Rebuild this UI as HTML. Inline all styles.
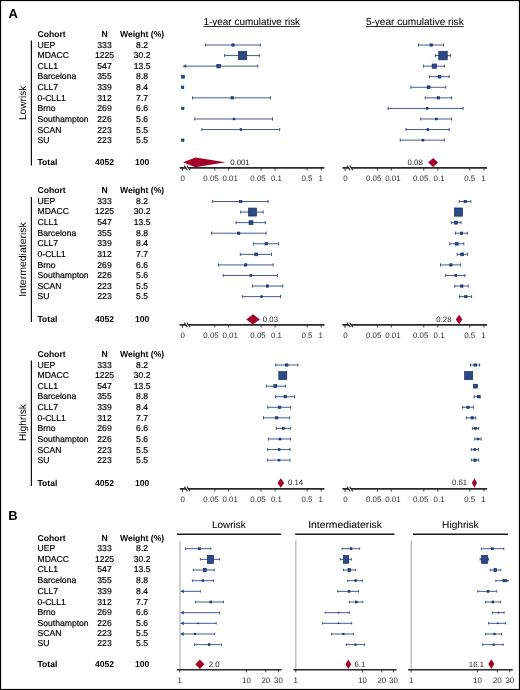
<!DOCTYPE html>
<html><head><meta charset="utf-8"><style>
html,body{margin:0;padding:0;background:#fff;}
svg{display:block;font-family:"Liberation Sans", sans-serif;}
text{text-rendering:geometricPrecision;}
</style></head><body>
<div style="will-change:transform"><svg width="520" height="690" viewBox="0 0 520 690">
<rect x="0" y="0" width="520" height="690" fill="#fff"/>
<text x="8.60" y="18.20" font-size="13" text-anchor="start" font-weight="bold" fill="#000" >A</text>
<text x="203.50" y="25.30" font-size="10" text-anchor="start" font-weight="normal" fill="#000" stroke="#000" stroke-width="0.05" textLength="96.6" lengthAdjust="spacingAndGlyphs">1-year cumulative risk</text>
<line x1="203.50" y1="26.50" x2="300.10" y2="26.50" stroke="#000" stroke-width="0.8"/>
<text x="365.90" y="25.30" font-size="10" text-anchor="start" font-weight="normal" fill="#000" stroke="#000" stroke-width="0.05" textLength="97.8" lengthAdjust="spacingAndGlyphs">5-year cumulative risk</text>
<line x1="365.90" y1="26.50" x2="463.70" y2="26.50" stroke="#000" stroke-width="0.8"/>
<text x="37.50" y="36.80" font-size="8.6" text-anchor="start" font-weight="bold" fill="#000" >Cohort</text>
<text x="104.50" y="36.80" font-size="8.6" text-anchor="middle" font-weight="bold" fill="#000" >N</text>
<text x="142.10" y="36.80" font-size="8.6" text-anchor="middle" font-weight="bold" fill="#000" >Weight (%)</text>
<text x="37.50" y="47.50" font-size="8.6" text-anchor="start" font-weight="normal" fill="#000" stroke="#000" stroke-width="0.18" >UEP</text>
<text x="104.50" y="47.50" font-size="8.6" text-anchor="middle" font-weight="normal" fill="#000" stroke="#000" stroke-width="0.18" >333</text>
<text x="142.10" y="47.50" font-size="8.6" text-anchor="middle" font-weight="normal" fill="#000" stroke="#000" stroke-width="0.18" >8.2</text>
<text x="37.50" y="57.95" font-size="8.6" text-anchor="start" font-weight="normal" fill="#000" stroke="#000" stroke-width="0.18" >MDACC</text>
<text x="104.50" y="57.95" font-size="8.6" text-anchor="middle" font-weight="normal" fill="#000" stroke="#000" stroke-width="0.18" >1225</text>
<text x="142.10" y="57.95" font-size="8.6" text-anchor="middle" font-weight="normal" fill="#000" stroke="#000" stroke-width="0.18" >30.2</text>
<text x="37.50" y="68.60" font-size="8.6" text-anchor="start" font-weight="normal" fill="#000" stroke="#000" stroke-width="0.18" >CLL1</text>
<text x="104.50" y="68.60" font-size="8.6" text-anchor="middle" font-weight="normal" fill="#000" stroke="#000" stroke-width="0.18" >547</text>
<text x="142.10" y="68.60" font-size="8.6" text-anchor="middle" font-weight="normal" fill="#000" stroke="#000" stroke-width="0.18" >13.5</text>
<text x="37.50" y="79.20" font-size="8.6" text-anchor="start" font-weight="normal" fill="#000" stroke="#000" stroke-width="0.18" >Barcelona</text>
<text x="104.50" y="79.20" font-size="8.6" text-anchor="middle" font-weight="normal" fill="#000" stroke="#000" stroke-width="0.18" >355</text>
<text x="142.10" y="79.20" font-size="8.6" text-anchor="middle" font-weight="normal" fill="#000" stroke="#000" stroke-width="0.18" >8.8</text>
<text x="37.50" y="89.95" font-size="8.6" text-anchor="start" font-weight="normal" fill="#000" stroke="#000" stroke-width="0.18" >CLL7</text>
<text x="104.50" y="89.95" font-size="8.6" text-anchor="middle" font-weight="normal" fill="#000" stroke="#000" stroke-width="0.18" >339</text>
<text x="142.10" y="89.95" font-size="8.6" text-anchor="middle" font-weight="normal" fill="#000" stroke="#000" stroke-width="0.18" >8.4</text>
<text x="37.50" y="100.90" font-size="8.6" text-anchor="start" font-weight="normal" fill="#000" stroke="#000" stroke-width="0.18" >0-CLL1</text>
<text x="104.50" y="100.90" font-size="8.6" text-anchor="middle" font-weight="normal" fill="#000" stroke="#000" stroke-width="0.18" >312</text>
<text x="142.10" y="100.90" font-size="8.6" text-anchor="middle" font-weight="normal" fill="#000" stroke="#000" stroke-width="0.18" >7.7</text>
<text x="37.50" y="111.35" font-size="8.6" text-anchor="start" font-weight="normal" fill="#000" stroke="#000" stroke-width="0.18" >Brno</text>
<text x="104.50" y="111.35" font-size="8.6" text-anchor="middle" font-weight="normal" fill="#000" stroke="#000" stroke-width="0.18" >269</text>
<text x="142.10" y="111.35" font-size="8.6" text-anchor="middle" font-weight="normal" fill="#000" stroke="#000" stroke-width="0.18" >6.6</text>
<text x="37.50" y="121.90" font-size="8.6" text-anchor="start" font-weight="normal" fill="#000" stroke="#000" stroke-width="0.18" >Southampton</text>
<text x="104.50" y="121.90" font-size="8.6" text-anchor="middle" font-weight="normal" fill="#000" stroke="#000" stroke-width="0.18" >226</text>
<text x="142.10" y="121.90" font-size="8.6" text-anchor="middle" font-weight="normal" fill="#000" stroke="#000" stroke-width="0.18" >5.6</text>
<text x="37.50" y="132.70" font-size="8.6" text-anchor="start" font-weight="normal" fill="#000" stroke="#000" stroke-width="0.18" >SCAN</text>
<text x="104.50" y="132.70" font-size="8.6" text-anchor="middle" font-weight="normal" fill="#000" stroke="#000" stroke-width="0.18" >223</text>
<text x="142.10" y="132.70" font-size="8.6" text-anchor="middle" font-weight="normal" fill="#000" stroke="#000" stroke-width="0.18" >5.5</text>
<text x="37.50" y="142.55" font-size="8.6" text-anchor="start" font-weight="normal" fill="#000" stroke="#000" stroke-width="0.18" >SU</text>
<text x="104.50" y="142.55" font-size="8.6" text-anchor="middle" font-weight="normal" fill="#000" stroke="#000" stroke-width="0.18" >223</text>
<text x="142.10" y="142.55" font-size="8.6" text-anchor="middle" font-weight="normal" fill="#000" stroke="#000" stroke-width="0.18" >5.5</text>
<text x="37.50" y="165.30" font-size="8.6" text-anchor="start" font-weight="bold" fill="#000" >Total</text>
<text x="104.50" y="165.30" font-size="8.6" text-anchor="middle" font-weight="bold" fill="#000" >4052</text>
<text x="142.10" y="165.30" font-size="8.6" text-anchor="middle" font-weight="bold" fill="#000" >100</text>
<line x1="31.40" y1="40.40" x2="31.40" y2="165.60" stroke="#111" stroke-width="1.2"/>
<text x="0" y="0" font-size="10.1" text-anchor="middle" fill="#000" textLength="34.3" lengthAdjust="spacingAndGlyphs" transform="translate(25.6,102.90) rotate(-90)">Lowrisk</text>
<line x1="179.70" y1="167.90" x2="324.40" y2="167.90" stroke="#2a2a2a" stroke-width="1.6"/>
<line x1="214.80" y1="167.90" x2="214.80" y2="170.50" stroke="#2a2a2a" stroke-width="0.9"/>
<line x1="228.60" y1="167.90" x2="228.60" y2="170.50" stroke="#2a2a2a" stroke-width="0.9"/>
<line x1="261.10" y1="167.90" x2="261.10" y2="170.50" stroke="#2a2a2a" stroke-width="0.9"/>
<line x1="275.10" y1="167.90" x2="275.10" y2="170.50" stroke="#2a2a2a" stroke-width="0.9"/>
<line x1="307.10" y1="167.90" x2="307.10" y2="170.50" stroke="#2a2a2a" stroke-width="0.9"/>
<line x1="321.30" y1="167.90" x2="321.30" y2="170.50" stroke="#2a2a2a" stroke-width="0.9"/>
<line x1="182.40" y1="167.90" x2="182.40" y2="170.90" stroke="#2a2a2a" stroke-width="1.0"/>
<rect x="185.00" y="165.40" width="2.2" height="5" fill="#fff" transform="skewX(35) translate(-117.53,0)" opacity="0"/>
<polygon points="185.00,165.70 186.40,165.70 189.40,170.10 188.00,170.10" fill="#fff"/>
<line x1="184.30" y1="165.60" x2="187.40" y2="170.20" stroke="#2a2a2a" stroke-width="1.1"/>
<line x1="187.00" y1="165.60" x2="190.10" y2="170.20" stroke="#2a2a2a" stroke-width="1.1"/>
<text x="182.80" y="180.80" font-size="7.9" text-anchor="middle" font-weight="normal" fill="#2a2a2a" >0</text>
<text x="211.00" y="180.80" font-size="7.9" text-anchor="middle" font-weight="normal" fill="#2a2a2a" >0.05</text>
<text x="230.20" y="180.80" font-size="7.9" text-anchor="middle" font-weight="normal" fill="#2a2a2a" >0.01</text>
<text x="258.00" y="180.80" font-size="7.9" text-anchor="middle" font-weight="normal" fill="#2a2a2a" >0.05</text>
<text x="276.40" y="180.80" font-size="7.9" text-anchor="middle" font-weight="normal" fill="#2a2a2a" >0.1</text>
<text x="307.00" y="180.80" font-size="7.9" text-anchor="middle" font-weight="normal" fill="#2a2a2a" >0.5</text>
<text x="320.80" y="180.80" font-size="7.9" text-anchor="middle" font-weight="normal" fill="#2a2a2a" >1</text>
<line x1="342.40" y1="167.90" x2="487.10" y2="167.90" stroke="#2a2a2a" stroke-width="1.6"/>
<line x1="377.50" y1="167.90" x2="377.50" y2="170.50" stroke="#2a2a2a" stroke-width="0.9"/>
<line x1="391.30" y1="167.90" x2="391.30" y2="170.50" stroke="#2a2a2a" stroke-width="0.9"/>
<line x1="423.80" y1="167.90" x2="423.80" y2="170.50" stroke="#2a2a2a" stroke-width="0.9"/>
<line x1="437.80" y1="167.90" x2="437.80" y2="170.50" stroke="#2a2a2a" stroke-width="0.9"/>
<line x1="469.80" y1="167.90" x2="469.80" y2="170.50" stroke="#2a2a2a" stroke-width="0.9"/>
<line x1="484.00" y1="167.90" x2="484.00" y2="170.50" stroke="#2a2a2a" stroke-width="0.9"/>
<line x1="345.10" y1="167.90" x2="345.10" y2="170.90" stroke="#2a2a2a" stroke-width="1.0"/>
<rect x="347.70" y="165.40" width="2.2" height="5" fill="#fff" transform="skewX(35) translate(-117.53,0)" opacity="0"/>
<polygon points="347.70,165.70 349.10,165.70 352.10,170.10 350.70,170.10" fill="#fff"/>
<line x1="347.00" y1="165.60" x2="350.10" y2="170.20" stroke="#2a2a2a" stroke-width="1.1"/>
<line x1="349.70" y1="165.60" x2="352.80" y2="170.20" stroke="#2a2a2a" stroke-width="1.1"/>
<text x="345.50" y="180.80" font-size="7.9" text-anchor="middle" font-weight="normal" fill="#2a2a2a" >0</text>
<text x="373.70" y="180.80" font-size="7.9" text-anchor="middle" font-weight="normal" fill="#2a2a2a" >0.05</text>
<text x="392.90" y="180.80" font-size="7.9" text-anchor="middle" font-weight="normal" fill="#2a2a2a" >0.01</text>
<text x="420.70" y="180.80" font-size="7.9" text-anchor="middle" font-weight="normal" fill="#2a2a2a" >0.05</text>
<text x="439.10" y="180.80" font-size="7.9" text-anchor="middle" font-weight="normal" fill="#2a2a2a" >0.1</text>
<text x="469.70" y="180.80" font-size="7.9" text-anchor="middle" font-weight="normal" fill="#2a2a2a" >0.5</text>
<text x="483.50" y="180.80" font-size="7.9" text-anchor="middle" font-weight="normal" fill="#2a2a2a" >1</text>
<line x1="205.30" y1="45.00" x2="260.30" y2="45.00" stroke="#2d4a84" stroke-width="0.9"/>
<line x1="205.30" y1="43.40" x2="205.30" y2="46.60" stroke="#2d4a84" stroke-width="0.9"/>
<line x1="260.30" y1="43.40" x2="260.30" y2="46.60" stroke="#2d4a84" stroke-width="0.9"/>
<rect x="231.85" y="43.85" width="2.30" height="2.30" fill="#2d4a84" stroke="#142d68" stroke-width="0.7"/>
<line x1="418.50" y1="45.00" x2="443.50" y2="45.00" stroke="#2d4a84" stroke-width="0.9"/>
<line x1="418.50" y1="43.40" x2="418.50" y2="46.60" stroke="#2d4a84" stroke-width="0.9"/>
<line x1="443.50" y1="43.40" x2="443.50" y2="46.60" stroke="#2d4a84" stroke-width="0.9"/>
<rect x="430.05" y="43.85" width="2.30" height="2.30" fill="#2d4a84" stroke="#142d68" stroke-width="0.7"/>
<line x1="224.60" y1="55.57" x2="259.20" y2="55.57" stroke="#2d4a84" stroke-width="0.9"/>
<line x1="224.60" y1="53.97" x2="224.60" y2="57.17" stroke="#2d4a84" stroke-width="0.9"/>
<line x1="259.20" y1="53.97" x2="259.20" y2="57.17" stroke="#2d4a84" stroke-width="0.9"/>
<rect x="238.35" y="51.42" width="8.30" height="8.30" fill="#2d4a84" stroke="#142d68" stroke-width="0.7"/>
<line x1="435.30" y1="55.57" x2="450.40" y2="55.57" stroke="#2d4a84" stroke-width="0.9"/>
<line x1="435.30" y1="53.97" x2="435.30" y2="57.17" stroke="#2d4a84" stroke-width="0.9"/>
<line x1="450.40" y1="53.97" x2="450.40" y2="57.17" stroke="#2d4a84" stroke-width="0.9"/>
<rect x="438.75" y="51.32" width="8.50" height="8.50" fill="#2d4a84" stroke="#142d68" stroke-width="0.7"/>
<line x1="183.00" y1="66.14" x2="257.70" y2="66.14" stroke="#2d4a84" stroke-width="0.9"/>
<polygon points="183.00,66.14 186.20,64.24 186.20,68.04" fill="#2d4a84"/>
<line x1="257.70" y1="64.54" x2="257.70" y2="67.74" stroke="#2d4a84" stroke-width="0.9"/>
<rect x="216.85" y="64.39" width="3.50" height="3.50" fill="#2d4a84" stroke="#142d68" stroke-width="0.7"/>
<line x1="423.60" y1="66.14" x2="444.50" y2="66.14" stroke="#2d4a84" stroke-width="0.9"/>
<line x1="423.60" y1="64.54" x2="423.60" y2="67.74" stroke="#2d4a84" stroke-width="0.9"/>
<line x1="444.50" y1="64.54" x2="444.50" y2="67.74" stroke="#2d4a84" stroke-width="0.9"/>
<rect x="432.15" y="63.99" width="4.30" height="4.30" fill="#2d4a84" stroke="#142d68" stroke-width="0.7"/>
<rect x="181.55" y="75.26" width="2.90" height="2.90" fill="#2d4a84" stroke="#142d68" stroke-width="0.7"/>
<line x1="429.60" y1="76.71" x2="449.20" y2="76.71" stroke="#2d4a84" stroke-width="0.9"/>
<line x1="429.60" y1="75.11" x2="429.60" y2="78.31" stroke="#2d4a84" stroke-width="0.9"/>
<line x1="449.20" y1="75.11" x2="449.20" y2="78.31" stroke="#2d4a84" stroke-width="0.9"/>
<rect x="438.15" y="75.36" width="2.70" height="2.70" fill="#2d4a84" stroke="#142d68" stroke-width="0.7"/>
<rect x="181.40" y="86.08" width="2.40" height="2.40" fill="#2d4a84" stroke="#142d68" stroke-width="0.7"/>
<line x1="410.80" y1="87.28" x2="445.80" y2="87.28" stroke="#2d4a84" stroke-width="0.9"/>
<line x1="410.80" y1="85.68" x2="410.80" y2="88.88" stroke="#2d4a84" stroke-width="0.9"/>
<line x1="445.80" y1="85.68" x2="445.80" y2="88.88" stroke="#2d4a84" stroke-width="0.9"/>
<rect x="427.20" y="85.88" width="2.80" height="2.80" fill="#2d4a84" stroke="#142d68" stroke-width="0.7"/>
<line x1="192.50" y1="97.85" x2="270.50" y2="97.85" stroke="#2d4a84" stroke-width="0.9"/>
<line x1="192.50" y1="96.25" x2="192.50" y2="99.45" stroke="#2d4a84" stroke-width="0.9"/>
<line x1="270.50" y1="96.25" x2="270.50" y2="99.45" stroke="#2d4a84" stroke-width="0.9"/>
<rect x="231.05" y="96.70" width="2.30" height="2.30" fill="#2d4a84" stroke="#142d68" stroke-width="0.7"/>
<line x1="425.20" y1="97.85" x2="451.50" y2="97.85" stroke="#2d4a84" stroke-width="0.9"/>
<line x1="425.20" y1="96.25" x2="425.20" y2="99.45" stroke="#2d4a84" stroke-width="0.9"/>
<line x1="451.50" y1="96.25" x2="451.50" y2="99.45" stroke="#2d4a84" stroke-width="0.9"/>
<rect x="437.15" y="96.70" width="2.30" height="2.30" fill="#2d4a84" stroke="#142d68" stroke-width="0.7"/>
<rect x="181.65" y="107.27" width="2.30" height="2.30" fill="#2d4a84" stroke="#142d68" stroke-width="0.7"/>
<line x1="388.10" y1="108.42" x2="463.10" y2="108.42" stroke="#2d4a84" stroke-width="0.9"/>
<line x1="388.10" y1="106.82" x2="388.10" y2="110.02" stroke="#2d4a84" stroke-width="0.9"/>
<line x1="463.10" y1="106.82" x2="463.10" y2="110.02" stroke="#2d4a84" stroke-width="0.9"/>
<rect x="426.20" y="107.52" width="1.80" height="1.80" fill="#2d4a84" stroke="#142d68" stroke-width="0.7"/>
<line x1="194.80" y1="118.99" x2="272.50" y2="118.99" stroke="#2d4a84" stroke-width="0.9"/>
<line x1="194.80" y1="117.39" x2="194.80" y2="120.59" stroke="#2d4a84" stroke-width="0.9"/>
<line x1="272.50" y1="117.39" x2="272.50" y2="120.59" stroke="#2d4a84" stroke-width="0.9"/>
<rect x="233.15" y="118.14" width="1.70" height="1.70" fill="#2d4a84" stroke="#142d68" stroke-width="0.7"/>
<line x1="420.80" y1="118.99" x2="451.50" y2="118.99" stroke="#2d4a84" stroke-width="0.9"/>
<line x1="420.80" y1="117.39" x2="420.80" y2="120.59" stroke="#2d4a84" stroke-width="0.9"/>
<line x1="451.50" y1="117.39" x2="451.50" y2="120.59" stroke="#2d4a84" stroke-width="0.9"/>
<rect x="435.40" y="118.09" width="1.80" height="1.80" fill="#2d4a84" stroke="#142d68" stroke-width="0.7"/>
<line x1="201.90" y1="129.56" x2="279.70" y2="129.56" stroke="#2d4a84" stroke-width="0.9"/>
<line x1="201.90" y1="127.96" x2="201.90" y2="131.16" stroke="#2d4a84" stroke-width="0.9"/>
<line x1="279.70" y1="127.96" x2="279.70" y2="131.16" stroke="#2d4a84" stroke-width="0.9"/>
<rect x="240.05" y="128.71" width="1.70" height="1.70" fill="#2d4a84" stroke="#142d68" stroke-width="0.7"/>
<line x1="406.00" y1="129.56" x2="449.20" y2="129.56" stroke="#2d4a84" stroke-width="0.9"/>
<line x1="406.00" y1="127.96" x2="406.00" y2="131.16" stroke="#2d4a84" stroke-width="0.9"/>
<line x1="449.20" y1="127.96" x2="449.20" y2="131.16" stroke="#2d4a84" stroke-width="0.9"/>
<rect x="427.00" y="128.66" width="1.80" height="1.80" fill="#2d4a84" stroke="#142d68" stroke-width="0.7"/>
<rect x="181.65" y="138.98" width="2.30" height="2.30" fill="#2d4a84" stroke="#142d68" stroke-width="0.7"/>
<line x1="400.20" y1="140.13" x2="444.40" y2="140.13" stroke="#2d4a84" stroke-width="0.9"/>
<line x1="400.20" y1="138.53" x2="400.20" y2="141.73" stroke="#2d4a84" stroke-width="0.9"/>
<line x1="444.40" y1="138.53" x2="444.40" y2="141.73" stroke="#2d4a84" stroke-width="0.9"/>
<rect x="422.00" y="139.23" width="1.80" height="1.80" fill="#2d4a84" stroke="#142d68" stroke-width="0.7"/>
<polygon points="183.00,162.30 195.50,157.40 225.50,162.30 195.50,167.20" fill="#a5002b"/>
<text x="230.20" y="165.00" font-size="7.8" text-anchor="start" font-weight="normal" fill="#2a2a2a" >0.001</text>
<polygon points="428.20,162.60 433.10,158.10 438.00,162.60 433.10,167.00" fill="#a5002b"/>
<text x="422.80" y="164.80" font-size="7.8" text-anchor="end" font-weight="normal" fill="#2a2a2a" >0.08</text>
<text x="37.50" y="193.30" font-size="8.6" text-anchor="start" font-weight="bold" fill="#000" >Cohort</text>
<text x="104.50" y="193.30" font-size="8.6" text-anchor="middle" font-weight="bold" fill="#000" >N</text>
<text x="142.10" y="193.30" font-size="8.6" text-anchor="middle" font-weight="bold" fill="#000" >Weight (%)</text>
<text x="37.50" y="204.00" font-size="8.6" text-anchor="start" font-weight="normal" fill="#000" stroke="#000" stroke-width="0.18" >UEP</text>
<text x="104.50" y="204.00" font-size="8.6" text-anchor="middle" font-weight="normal" fill="#000" stroke="#000" stroke-width="0.18" >333</text>
<text x="142.10" y="204.00" font-size="8.6" text-anchor="middle" font-weight="normal" fill="#000" stroke="#000" stroke-width="0.18" >8.2</text>
<text x="37.50" y="214.45" font-size="8.6" text-anchor="start" font-weight="normal" fill="#000" stroke="#000" stroke-width="0.18" >MDACC</text>
<text x="104.50" y="214.45" font-size="8.6" text-anchor="middle" font-weight="normal" fill="#000" stroke="#000" stroke-width="0.18" >1225</text>
<text x="142.10" y="214.45" font-size="8.6" text-anchor="middle" font-weight="normal" fill="#000" stroke="#000" stroke-width="0.18" >30.2</text>
<text x="37.50" y="225.10" font-size="8.6" text-anchor="start" font-weight="normal" fill="#000" stroke="#000" stroke-width="0.18" >CLL1</text>
<text x="104.50" y="225.10" font-size="8.6" text-anchor="middle" font-weight="normal" fill="#000" stroke="#000" stroke-width="0.18" >547</text>
<text x="142.10" y="225.10" font-size="8.6" text-anchor="middle" font-weight="normal" fill="#000" stroke="#000" stroke-width="0.18" >13.5</text>
<text x="37.50" y="235.70" font-size="8.6" text-anchor="start" font-weight="normal" fill="#000" stroke="#000" stroke-width="0.18" >Barcelona</text>
<text x="104.50" y="235.70" font-size="8.6" text-anchor="middle" font-weight="normal" fill="#000" stroke="#000" stroke-width="0.18" >355</text>
<text x="142.10" y="235.70" font-size="8.6" text-anchor="middle" font-weight="normal" fill="#000" stroke="#000" stroke-width="0.18" >8.8</text>
<text x="37.50" y="246.45" font-size="8.6" text-anchor="start" font-weight="normal" fill="#000" stroke="#000" stroke-width="0.18" >CLL7</text>
<text x="104.50" y="246.45" font-size="8.6" text-anchor="middle" font-weight="normal" fill="#000" stroke="#000" stroke-width="0.18" >339</text>
<text x="142.10" y="246.45" font-size="8.6" text-anchor="middle" font-weight="normal" fill="#000" stroke="#000" stroke-width="0.18" >8.4</text>
<text x="37.50" y="257.40" font-size="8.6" text-anchor="start" font-weight="normal" fill="#000" stroke="#000" stroke-width="0.18" >0-CLL1</text>
<text x="104.50" y="257.40" font-size="8.6" text-anchor="middle" font-weight="normal" fill="#000" stroke="#000" stroke-width="0.18" >312</text>
<text x="142.10" y="257.40" font-size="8.6" text-anchor="middle" font-weight="normal" fill="#000" stroke="#000" stroke-width="0.18" >7.7</text>
<text x="37.50" y="267.85" font-size="8.6" text-anchor="start" font-weight="normal" fill="#000" stroke="#000" stroke-width="0.18" >Brno</text>
<text x="104.50" y="267.85" font-size="8.6" text-anchor="middle" font-weight="normal" fill="#000" stroke="#000" stroke-width="0.18" >269</text>
<text x="142.10" y="267.85" font-size="8.6" text-anchor="middle" font-weight="normal" fill="#000" stroke="#000" stroke-width="0.18" >6.6</text>
<text x="37.50" y="278.40" font-size="8.6" text-anchor="start" font-weight="normal" fill="#000" stroke="#000" stroke-width="0.18" >Southampton</text>
<text x="104.50" y="278.40" font-size="8.6" text-anchor="middle" font-weight="normal" fill="#000" stroke="#000" stroke-width="0.18" >226</text>
<text x="142.10" y="278.40" font-size="8.6" text-anchor="middle" font-weight="normal" fill="#000" stroke="#000" stroke-width="0.18" >5.6</text>
<text x="37.50" y="289.20" font-size="8.6" text-anchor="start" font-weight="normal" fill="#000" stroke="#000" stroke-width="0.18" >SCAN</text>
<text x="104.50" y="289.20" font-size="8.6" text-anchor="middle" font-weight="normal" fill="#000" stroke="#000" stroke-width="0.18" >223</text>
<text x="142.10" y="289.20" font-size="8.6" text-anchor="middle" font-weight="normal" fill="#000" stroke="#000" stroke-width="0.18" >5.5</text>
<text x="37.50" y="299.05" font-size="8.6" text-anchor="start" font-weight="normal" fill="#000" stroke="#000" stroke-width="0.18" >SU</text>
<text x="104.50" y="299.05" font-size="8.6" text-anchor="middle" font-weight="normal" fill="#000" stroke="#000" stroke-width="0.18" >223</text>
<text x="142.10" y="299.05" font-size="8.6" text-anchor="middle" font-weight="normal" fill="#000" stroke="#000" stroke-width="0.18" >5.5</text>
<text x="37.50" y="321.80" font-size="8.6" text-anchor="start" font-weight="bold" fill="#000" >Total</text>
<text x="104.50" y="321.80" font-size="8.6" text-anchor="middle" font-weight="bold" fill="#000" >4052</text>
<text x="142.10" y="321.80" font-size="8.6" text-anchor="middle" font-weight="bold" fill="#000" >100</text>
<line x1="31.40" y1="196.90" x2="31.40" y2="322.10" stroke="#111" stroke-width="1.2"/>
<text x="0" y="0" font-size="10.1" text-anchor="middle" fill="#000" textLength="74.6" lengthAdjust="spacingAndGlyphs" transform="translate(25.6,259.50) rotate(-90)">Intermediaterisk</text>
<line x1="179.70" y1="324.90" x2="324.40" y2="324.90" stroke="#2a2a2a" stroke-width="1.6"/>
<line x1="214.80" y1="324.90" x2="214.80" y2="327.50" stroke="#2a2a2a" stroke-width="0.9"/>
<line x1="228.60" y1="324.90" x2="228.60" y2="327.50" stroke="#2a2a2a" stroke-width="0.9"/>
<line x1="261.10" y1="324.90" x2="261.10" y2="327.50" stroke="#2a2a2a" stroke-width="0.9"/>
<line x1="275.10" y1="324.90" x2="275.10" y2="327.50" stroke="#2a2a2a" stroke-width="0.9"/>
<line x1="307.10" y1="324.90" x2="307.10" y2="327.50" stroke="#2a2a2a" stroke-width="0.9"/>
<line x1="321.30" y1="324.90" x2="321.30" y2="327.50" stroke="#2a2a2a" stroke-width="0.9"/>
<line x1="182.40" y1="324.90" x2="182.40" y2="327.90" stroke="#2a2a2a" stroke-width="1.0"/>
<rect x="185.00" y="322.40" width="2.2" height="5" fill="#fff" transform="skewX(35) translate(-227.43,0)" opacity="0"/>
<polygon points="185.00,322.70 186.40,322.70 189.40,327.10 188.00,327.10" fill="#fff"/>
<line x1="184.30" y1="322.60" x2="187.40" y2="327.20" stroke="#2a2a2a" stroke-width="1.1"/>
<line x1="187.00" y1="322.60" x2="190.10" y2="327.20" stroke="#2a2a2a" stroke-width="1.1"/>
<text x="182.80" y="337.80" font-size="7.9" text-anchor="middle" font-weight="normal" fill="#2a2a2a" >0</text>
<text x="211.00" y="337.80" font-size="7.9" text-anchor="middle" font-weight="normal" fill="#2a2a2a" >0.05</text>
<text x="230.20" y="337.80" font-size="7.9" text-anchor="middle" font-weight="normal" fill="#2a2a2a" >0.01</text>
<text x="258.00" y="337.80" font-size="7.9" text-anchor="middle" font-weight="normal" fill="#2a2a2a" >0.05</text>
<text x="276.40" y="337.80" font-size="7.9" text-anchor="middle" font-weight="normal" fill="#2a2a2a" >0.1</text>
<text x="307.00" y="337.80" font-size="7.9" text-anchor="middle" font-weight="normal" fill="#2a2a2a" >0.5</text>
<text x="320.80" y="337.80" font-size="7.9" text-anchor="middle" font-weight="normal" fill="#2a2a2a" >1</text>
<line x1="342.40" y1="324.90" x2="487.10" y2="324.90" stroke="#2a2a2a" stroke-width="1.6"/>
<line x1="377.50" y1="324.90" x2="377.50" y2="327.50" stroke="#2a2a2a" stroke-width="0.9"/>
<line x1="391.30" y1="324.90" x2="391.30" y2="327.50" stroke="#2a2a2a" stroke-width="0.9"/>
<line x1="423.80" y1="324.90" x2="423.80" y2="327.50" stroke="#2a2a2a" stroke-width="0.9"/>
<line x1="437.80" y1="324.90" x2="437.80" y2="327.50" stroke="#2a2a2a" stroke-width="0.9"/>
<line x1="469.80" y1="324.90" x2="469.80" y2="327.50" stroke="#2a2a2a" stroke-width="0.9"/>
<line x1="484.00" y1="324.90" x2="484.00" y2="327.50" stroke="#2a2a2a" stroke-width="0.9"/>
<line x1="345.10" y1="324.90" x2="345.10" y2="327.90" stroke="#2a2a2a" stroke-width="1.0"/>
<rect x="347.70" y="322.40" width="2.2" height="5" fill="#fff" transform="skewX(35) translate(-227.43,0)" opacity="0"/>
<polygon points="347.70,322.70 349.10,322.70 352.10,327.10 350.70,327.10" fill="#fff"/>
<line x1="347.00" y1="322.60" x2="350.10" y2="327.20" stroke="#2a2a2a" stroke-width="1.1"/>
<line x1="349.70" y1="322.60" x2="352.80" y2="327.20" stroke="#2a2a2a" stroke-width="1.1"/>
<text x="345.50" y="337.80" font-size="7.9" text-anchor="middle" font-weight="normal" fill="#2a2a2a" >0</text>
<text x="373.70" y="337.80" font-size="7.9" text-anchor="middle" font-weight="normal" fill="#2a2a2a" >0.05</text>
<text x="392.90" y="337.80" font-size="7.9" text-anchor="middle" font-weight="normal" fill="#2a2a2a" >0.01</text>
<text x="420.70" y="337.80" font-size="7.9" text-anchor="middle" font-weight="normal" fill="#2a2a2a" >0.05</text>
<text x="439.10" y="337.80" font-size="7.9" text-anchor="middle" font-weight="normal" fill="#2a2a2a" >0.1</text>
<text x="469.70" y="337.80" font-size="7.9" text-anchor="middle" font-weight="normal" fill="#2a2a2a" >0.5</text>
<text x="483.50" y="337.80" font-size="7.9" text-anchor="middle" font-weight="normal" fill="#2a2a2a" >1</text>
<line x1="212.40" y1="201.50" x2="268.10" y2="201.50" stroke="#2d4a84" stroke-width="0.9"/>
<line x1="212.40" y1="199.90" x2="212.40" y2="203.10" stroke="#2d4a84" stroke-width="0.9"/>
<line x1="268.10" y1="199.90" x2="268.10" y2="203.10" stroke="#2d4a84" stroke-width="0.9"/>
<rect x="239.55" y="200.35" width="2.30" height="2.30" fill="#2d4a84" stroke="#142d68" stroke-width="0.7"/>
<line x1="459.20" y1="201.50" x2="470.80" y2="201.50" stroke="#2d4a84" stroke-width="0.9"/>
<line x1="459.20" y1="199.90" x2="459.20" y2="203.10" stroke="#2d4a84" stroke-width="0.9"/>
<line x1="470.80" y1="199.90" x2="470.80" y2="203.10" stroke="#2d4a84" stroke-width="0.9"/>
<rect x="464.05" y="200.35" width="2.30" height="2.30" fill="#2d4a84" stroke="#142d68" stroke-width="0.7"/>
<line x1="240.80" y1="212.07" x2="263.20" y2="212.07" stroke="#2d4a84" stroke-width="0.9"/>
<line x1="240.80" y1="210.47" x2="240.80" y2="213.67" stroke="#2d4a84" stroke-width="0.9"/>
<line x1="263.20" y1="210.47" x2="263.20" y2="213.67" stroke="#2d4a84" stroke-width="0.9"/>
<rect x="248.50" y="208.07" width="8.00" height="8.00" fill="#2d4a84" stroke="#142d68" stroke-width="0.7"/>
<rect x="454.40" y="207.97" width="8.20" height="8.20" fill="#2d4a84" stroke="#142d68" stroke-width="0.7"/>
<line x1="236.10" y1="222.64" x2="265.30" y2="222.64" stroke="#2d4a84" stroke-width="0.9"/>
<line x1="236.10" y1="221.04" x2="236.10" y2="224.24" stroke="#2d4a84" stroke-width="0.9"/>
<line x1="265.30" y1="221.04" x2="265.30" y2="224.24" stroke="#2d4a84" stroke-width="0.9"/>
<rect x="249.05" y="220.69" width="3.90" height="3.90" fill="#2d4a84" stroke="#142d68" stroke-width="0.7"/>
<line x1="451.20" y1="222.64" x2="461.00" y2="222.64" stroke="#2d4a84" stroke-width="0.9"/>
<line x1="451.20" y1="221.04" x2="451.20" y2="224.24" stroke="#2d4a84" stroke-width="0.9"/>
<line x1="461.00" y1="221.04" x2="461.00" y2="224.24" stroke="#2d4a84" stroke-width="0.9"/>
<rect x="454.50" y="221.14" width="3.00" height="3.00" fill="#2d4a84" stroke="#142d68" stroke-width="0.7"/>
<line x1="211.50" y1="233.21" x2="266.10" y2="233.21" stroke="#2d4a84" stroke-width="0.9"/>
<line x1="211.50" y1="231.61" x2="211.50" y2="234.81" stroke="#2d4a84" stroke-width="0.9"/>
<line x1="266.10" y1="231.61" x2="266.10" y2="234.81" stroke="#2d4a84" stroke-width="0.9"/>
<rect x="237.55" y="232.06" width="2.30" height="2.30" fill="#2d4a84" stroke="#142d68" stroke-width="0.7"/>
<line x1="455.40" y1="233.21" x2="467.30" y2="233.21" stroke="#2d4a84" stroke-width="0.9"/>
<line x1="455.40" y1="231.61" x2="455.40" y2="234.81" stroke="#2d4a84" stroke-width="0.9"/>
<line x1="467.30" y1="231.61" x2="467.30" y2="234.81" stroke="#2d4a84" stroke-width="0.9"/>
<rect x="460.35" y="232.06" width="2.30" height="2.30" fill="#2d4a84" stroke="#142d68" stroke-width="0.7"/>
<line x1="253.60" y1="243.78" x2="278.50" y2="243.78" stroke="#2d4a84" stroke-width="0.9"/>
<line x1="253.60" y1="242.18" x2="253.60" y2="245.38" stroke="#2d4a84" stroke-width="0.9"/>
<line x1="278.50" y1="242.18" x2="278.50" y2="245.38" stroke="#2d4a84" stroke-width="0.9"/>
<rect x="265.05" y="242.63" width="2.30" height="2.30" fill="#2d4a84" stroke="#142d68" stroke-width="0.7"/>
<line x1="449.70" y1="243.78" x2="463.80" y2="243.78" stroke="#2d4a84" stroke-width="0.9"/>
<line x1="449.70" y1="242.18" x2="449.70" y2="245.38" stroke="#2d4a84" stroke-width="0.9"/>
<line x1="463.80" y1="242.18" x2="463.80" y2="245.38" stroke="#2d4a84" stroke-width="0.9"/>
<rect x="455.30" y="242.38" width="2.80" height="2.80" fill="#2d4a84" stroke="#142d68" stroke-width="0.7"/>
<line x1="240.30" y1="254.35" x2="271.50" y2="254.35" stroke="#2d4a84" stroke-width="0.9"/>
<line x1="240.30" y1="252.75" x2="240.30" y2="255.95" stroke="#2d4a84" stroke-width="0.9"/>
<line x1="271.50" y1="252.75" x2="271.50" y2="255.95" stroke="#2d4a84" stroke-width="0.9"/>
<rect x="254.80" y="252.95" width="2.80" height="2.80" fill="#2d4a84" stroke="#142d68" stroke-width="0.7"/>
<line x1="457.20" y1="254.35" x2="467.50" y2="254.35" stroke="#2d4a84" stroke-width="0.9"/>
<line x1="457.20" y1="252.75" x2="457.20" y2="255.95" stroke="#2d4a84" stroke-width="0.9"/>
<line x1="467.50" y1="252.75" x2="467.50" y2="255.95" stroke="#2d4a84" stroke-width="0.9"/>
<rect x="460.70" y="252.95" width="2.80" height="2.80" fill="#2d4a84" stroke="#142d68" stroke-width="0.7"/>
<line x1="218.50" y1="264.92" x2="273.10" y2="264.92" stroke="#2d4a84" stroke-width="0.9"/>
<line x1="218.50" y1="263.32" x2="218.50" y2="266.52" stroke="#2d4a84" stroke-width="0.9"/>
<line x1="273.10" y1="263.32" x2="273.10" y2="266.52" stroke="#2d4a84" stroke-width="0.9"/>
<rect x="244.55" y="263.77" width="2.30" height="2.30" fill="#2d4a84" stroke="#142d68" stroke-width="0.7"/>
<line x1="440.50" y1="264.92" x2="460.60" y2="264.92" stroke="#2d4a84" stroke-width="0.9"/>
<line x1="440.50" y1="263.32" x2="440.50" y2="266.52" stroke="#2d4a84" stroke-width="0.9"/>
<line x1="460.60" y1="263.32" x2="460.60" y2="266.52" stroke="#2d4a84" stroke-width="0.9"/>
<rect x="449.75" y="263.77" width="2.30" height="2.30" fill="#2d4a84" stroke="#142d68" stroke-width="0.7"/>
<line x1="223.20" y1="275.49" x2="277.40" y2="275.49" stroke="#2d4a84" stroke-width="0.9"/>
<line x1="223.20" y1="273.89" x2="223.20" y2="277.09" stroke="#2d4a84" stroke-width="0.9"/>
<line x1="277.40" y1="273.89" x2="277.40" y2="277.09" stroke="#2d4a84" stroke-width="0.9"/>
<rect x="250.00" y="274.59" width="1.80" height="1.80" fill="#2d4a84" stroke="#142d68" stroke-width="0.7"/>
<line x1="445.60" y1="275.49" x2="465.00" y2="275.49" stroke="#2d4a84" stroke-width="0.9"/>
<line x1="445.60" y1="273.89" x2="445.60" y2="277.09" stroke="#2d4a84" stroke-width="0.9"/>
<line x1="465.00" y1="273.89" x2="465.00" y2="277.09" stroke="#2d4a84" stroke-width="0.9"/>
<rect x="454.90" y="274.59" width="1.80" height="1.80" fill="#2d4a84" stroke="#142d68" stroke-width="0.7"/>
<line x1="252.50" y1="286.06" x2="282.80" y2="286.06" stroke="#2d4a84" stroke-width="0.9"/>
<line x1="252.50" y1="284.46" x2="252.50" y2="287.66" stroke="#2d4a84" stroke-width="0.9"/>
<line x1="282.80" y1="284.46" x2="282.80" y2="287.66" stroke="#2d4a84" stroke-width="0.9"/>
<rect x="266.35" y="284.91" width="2.30" height="2.30" fill="#2d4a84" stroke="#142d68" stroke-width="0.7"/>
<line x1="454.80" y1="286.06" x2="468.20" y2="286.06" stroke="#2d4a84" stroke-width="0.9"/>
<line x1="454.80" y1="284.46" x2="454.80" y2="287.66" stroke="#2d4a84" stroke-width="0.9"/>
<line x1="468.20" y1="284.46" x2="468.20" y2="287.66" stroke="#2d4a84" stroke-width="0.9"/>
<rect x="460.65" y="284.91" width="2.30" height="2.30" fill="#2d4a84" stroke="#142d68" stroke-width="0.7"/>
<line x1="242.30" y1="296.63" x2="280.50" y2="296.63" stroke="#2d4a84" stroke-width="0.9"/>
<line x1="242.30" y1="295.03" x2="242.30" y2="298.23" stroke="#2d4a84" stroke-width="0.9"/>
<line x1="280.50" y1="295.03" x2="280.50" y2="298.23" stroke="#2d4a84" stroke-width="0.9"/>
<rect x="260.80" y="295.73" width="1.80" height="1.80" fill="#2d4a84" stroke="#142d68" stroke-width="0.7"/>
<line x1="459.60" y1="296.63" x2="471.60" y2="296.63" stroke="#2d4a84" stroke-width="0.9"/>
<line x1="459.60" y1="295.03" x2="459.60" y2="298.23" stroke="#2d4a84" stroke-width="0.9"/>
<line x1="471.60" y1="295.03" x2="471.60" y2="298.23" stroke="#2d4a84" stroke-width="0.9"/>
<rect x="464.65" y="295.48" width="2.30" height="2.30" fill="#2d4a84" stroke="#142d68" stroke-width="0.7"/>
<polygon points="246.30,319.40 253.00,314.30 259.80,319.40 253.00,324.50" fill="#a5002b"/>
<text x="262.80" y="321.60" font-size="7.8" text-anchor="start" font-weight="normal" fill="#2a2a2a" >0.03</text>
<polygon points="455.80,319.50 459.10,314.70 462.40,319.50 459.10,324.20" fill="#a5002b"/>
<text x="451.50" y="321.60" font-size="7.8" text-anchor="end" font-weight="normal" fill="#2a2a2a" >0.28</text>
<text x="37.50" y="356.80" font-size="8.6" text-anchor="start" font-weight="bold" fill="#000" >Cohort</text>
<text x="104.50" y="356.80" font-size="8.6" text-anchor="middle" font-weight="bold" fill="#000" >N</text>
<text x="142.10" y="356.80" font-size="8.6" text-anchor="middle" font-weight="bold" fill="#000" >Weight (%)</text>
<text x="37.50" y="367.50" font-size="8.6" text-anchor="start" font-weight="normal" fill="#000" stroke="#000" stroke-width="0.18" >UEP</text>
<text x="104.50" y="367.50" font-size="8.6" text-anchor="middle" font-weight="normal" fill="#000" stroke="#000" stroke-width="0.18" >333</text>
<text x="142.10" y="367.50" font-size="8.6" text-anchor="middle" font-weight="normal" fill="#000" stroke="#000" stroke-width="0.18" >8.2</text>
<text x="37.50" y="377.95" font-size="8.6" text-anchor="start" font-weight="normal" fill="#000" stroke="#000" stroke-width="0.18" >MDACC</text>
<text x="104.50" y="377.95" font-size="8.6" text-anchor="middle" font-weight="normal" fill="#000" stroke="#000" stroke-width="0.18" >1225</text>
<text x="142.10" y="377.95" font-size="8.6" text-anchor="middle" font-weight="normal" fill="#000" stroke="#000" stroke-width="0.18" >30.2</text>
<text x="37.50" y="388.60" font-size="8.6" text-anchor="start" font-weight="normal" fill="#000" stroke="#000" stroke-width="0.18" >CLL1</text>
<text x="104.50" y="388.60" font-size="8.6" text-anchor="middle" font-weight="normal" fill="#000" stroke="#000" stroke-width="0.18" >547</text>
<text x="142.10" y="388.60" font-size="8.6" text-anchor="middle" font-weight="normal" fill="#000" stroke="#000" stroke-width="0.18" >13.5</text>
<text x="37.50" y="399.20" font-size="8.6" text-anchor="start" font-weight="normal" fill="#000" stroke="#000" stroke-width="0.18" >Barcelona</text>
<text x="104.50" y="399.20" font-size="8.6" text-anchor="middle" font-weight="normal" fill="#000" stroke="#000" stroke-width="0.18" >355</text>
<text x="142.10" y="399.20" font-size="8.6" text-anchor="middle" font-weight="normal" fill="#000" stroke="#000" stroke-width="0.18" >8.8</text>
<text x="37.50" y="409.95" font-size="8.6" text-anchor="start" font-weight="normal" fill="#000" stroke="#000" stroke-width="0.18" >CLL7</text>
<text x="104.50" y="409.95" font-size="8.6" text-anchor="middle" font-weight="normal" fill="#000" stroke="#000" stroke-width="0.18" >339</text>
<text x="142.10" y="409.95" font-size="8.6" text-anchor="middle" font-weight="normal" fill="#000" stroke="#000" stroke-width="0.18" >8.4</text>
<text x="37.50" y="420.90" font-size="8.6" text-anchor="start" font-weight="normal" fill="#000" stroke="#000" stroke-width="0.18" >0-CLL1</text>
<text x="104.50" y="420.90" font-size="8.6" text-anchor="middle" font-weight="normal" fill="#000" stroke="#000" stroke-width="0.18" >312</text>
<text x="142.10" y="420.90" font-size="8.6" text-anchor="middle" font-weight="normal" fill="#000" stroke="#000" stroke-width="0.18" >7.7</text>
<text x="37.50" y="431.35" font-size="8.6" text-anchor="start" font-weight="normal" fill="#000" stroke="#000" stroke-width="0.18" >Brno</text>
<text x="104.50" y="431.35" font-size="8.6" text-anchor="middle" font-weight="normal" fill="#000" stroke="#000" stroke-width="0.18" >269</text>
<text x="142.10" y="431.35" font-size="8.6" text-anchor="middle" font-weight="normal" fill="#000" stroke="#000" stroke-width="0.18" >6.6</text>
<text x="37.50" y="441.90" font-size="8.6" text-anchor="start" font-weight="normal" fill="#000" stroke="#000" stroke-width="0.18" >Southampton</text>
<text x="104.50" y="441.90" font-size="8.6" text-anchor="middle" font-weight="normal" fill="#000" stroke="#000" stroke-width="0.18" >226</text>
<text x="142.10" y="441.90" font-size="8.6" text-anchor="middle" font-weight="normal" fill="#000" stroke="#000" stroke-width="0.18" >5.6</text>
<text x="37.50" y="452.70" font-size="8.6" text-anchor="start" font-weight="normal" fill="#000" stroke="#000" stroke-width="0.18" >SCAN</text>
<text x="104.50" y="452.70" font-size="8.6" text-anchor="middle" font-weight="normal" fill="#000" stroke="#000" stroke-width="0.18" >223</text>
<text x="142.10" y="452.70" font-size="8.6" text-anchor="middle" font-weight="normal" fill="#000" stroke="#000" stroke-width="0.18" >5.5</text>
<text x="37.50" y="462.55" font-size="8.6" text-anchor="start" font-weight="normal" fill="#000" stroke="#000" stroke-width="0.18" >SU</text>
<text x="104.50" y="462.55" font-size="8.6" text-anchor="middle" font-weight="normal" fill="#000" stroke="#000" stroke-width="0.18" >223</text>
<text x="142.10" y="462.55" font-size="8.6" text-anchor="middle" font-weight="normal" fill="#000" stroke="#000" stroke-width="0.18" >5.5</text>
<text x="37.50" y="485.80" font-size="8.6" text-anchor="start" font-weight="bold" fill="#000" >Total</text>
<text x="104.50" y="485.80" font-size="8.6" text-anchor="middle" font-weight="bold" fill="#000" >4052</text>
<text x="142.10" y="485.80" font-size="8.6" text-anchor="middle" font-weight="bold" fill="#000" >100</text>
<line x1="31.40" y1="360.40" x2="31.40" y2="486.10" stroke="#111" stroke-width="1.2"/>
<text x="0" y="0" font-size="10.1" text-anchor="middle" fill="#000" textLength="37.0" lengthAdjust="spacingAndGlyphs" transform="translate(25.6,422.60) rotate(-90)">Highrisk</text>
<line x1="179.70" y1="488.90" x2="324.40" y2="488.90" stroke="#2a2a2a" stroke-width="1.6"/>
<line x1="214.80" y1="488.90" x2="214.80" y2="491.50" stroke="#2a2a2a" stroke-width="0.9"/>
<line x1="228.60" y1="488.90" x2="228.60" y2="491.50" stroke="#2a2a2a" stroke-width="0.9"/>
<line x1="261.10" y1="488.90" x2="261.10" y2="491.50" stroke="#2a2a2a" stroke-width="0.9"/>
<line x1="275.10" y1="488.90" x2="275.10" y2="491.50" stroke="#2a2a2a" stroke-width="0.9"/>
<line x1="307.10" y1="488.90" x2="307.10" y2="491.50" stroke="#2a2a2a" stroke-width="0.9"/>
<line x1="321.30" y1="488.90" x2="321.30" y2="491.50" stroke="#2a2a2a" stroke-width="0.9"/>
<line x1="182.40" y1="488.90" x2="182.40" y2="491.90" stroke="#2a2a2a" stroke-width="1.0"/>
<rect x="185.00" y="486.40" width="2.2" height="5" fill="#fff" transform="skewX(35) translate(-342.23,0)" opacity="0"/>
<polygon points="185.00,486.70 186.40,486.70 189.40,491.10 188.00,491.10" fill="#fff"/>
<line x1="184.30" y1="486.60" x2="187.40" y2="491.20" stroke="#2a2a2a" stroke-width="1.1"/>
<line x1="187.00" y1="486.60" x2="190.10" y2="491.20" stroke="#2a2a2a" stroke-width="1.1"/>
<text x="182.80" y="501.80" font-size="7.9" text-anchor="middle" font-weight="normal" fill="#2a2a2a" >0</text>
<text x="211.00" y="501.80" font-size="7.9" text-anchor="middle" font-weight="normal" fill="#2a2a2a" >0.05</text>
<text x="230.20" y="501.80" font-size="7.9" text-anchor="middle" font-weight="normal" fill="#2a2a2a" >0.01</text>
<text x="258.00" y="501.80" font-size="7.9" text-anchor="middle" font-weight="normal" fill="#2a2a2a" >0.05</text>
<text x="276.40" y="501.80" font-size="7.9" text-anchor="middle" font-weight="normal" fill="#2a2a2a" >0.1</text>
<text x="307.00" y="501.80" font-size="7.9" text-anchor="middle" font-weight="normal" fill="#2a2a2a" >0.5</text>
<text x="320.80" y="501.80" font-size="7.9" text-anchor="middle" font-weight="normal" fill="#2a2a2a" >1</text>
<line x1="342.40" y1="488.90" x2="487.10" y2="488.90" stroke="#2a2a2a" stroke-width="1.6"/>
<line x1="377.50" y1="488.90" x2="377.50" y2="491.50" stroke="#2a2a2a" stroke-width="0.9"/>
<line x1="391.30" y1="488.90" x2="391.30" y2="491.50" stroke="#2a2a2a" stroke-width="0.9"/>
<line x1="423.80" y1="488.90" x2="423.80" y2="491.50" stroke="#2a2a2a" stroke-width="0.9"/>
<line x1="437.80" y1="488.90" x2="437.80" y2="491.50" stroke="#2a2a2a" stroke-width="0.9"/>
<line x1="469.80" y1="488.90" x2="469.80" y2="491.50" stroke="#2a2a2a" stroke-width="0.9"/>
<line x1="484.00" y1="488.90" x2="484.00" y2="491.50" stroke="#2a2a2a" stroke-width="0.9"/>
<line x1="345.10" y1="488.90" x2="345.10" y2="491.90" stroke="#2a2a2a" stroke-width="1.0"/>
<rect x="347.70" y="486.40" width="2.2" height="5" fill="#fff" transform="skewX(35) translate(-342.23,0)" opacity="0"/>
<polygon points="347.70,486.70 349.10,486.70 352.10,491.10 350.70,491.10" fill="#fff"/>
<line x1="347.00" y1="486.60" x2="350.10" y2="491.20" stroke="#2a2a2a" stroke-width="1.1"/>
<line x1="349.70" y1="486.60" x2="352.80" y2="491.20" stroke="#2a2a2a" stroke-width="1.1"/>
<text x="345.50" y="501.80" font-size="7.9" text-anchor="middle" font-weight="normal" fill="#2a2a2a" >0</text>
<text x="373.70" y="501.80" font-size="7.9" text-anchor="middle" font-weight="normal" fill="#2a2a2a" >0.05</text>
<text x="392.90" y="501.80" font-size="7.9" text-anchor="middle" font-weight="normal" fill="#2a2a2a" >0.01</text>
<text x="420.70" y="501.80" font-size="7.9" text-anchor="middle" font-weight="normal" fill="#2a2a2a" >0.05</text>
<text x="439.10" y="501.80" font-size="7.9" text-anchor="middle" font-weight="normal" fill="#2a2a2a" >0.1</text>
<text x="469.70" y="501.80" font-size="7.9" text-anchor="middle" font-weight="normal" fill="#2a2a2a" >0.5</text>
<text x="483.50" y="501.80" font-size="7.9" text-anchor="middle" font-weight="normal" fill="#2a2a2a" >1</text>
<line x1="275.70" y1="365.00" x2="297.80" y2="365.00" stroke="#2d4a84" stroke-width="0.9"/>
<line x1="275.70" y1="363.40" x2="275.70" y2="366.60" stroke="#2d4a84" stroke-width="0.9"/>
<line x1="297.80" y1="363.40" x2="297.80" y2="366.60" stroke="#2d4a84" stroke-width="0.9"/>
<rect x="285.65" y="363.85" width="2.30" height="2.30" fill="#2d4a84" stroke="#142d68" stroke-width="0.7"/>
<line x1="470.40" y1="365.00" x2="479.60" y2="365.00" stroke="#2d4a84" stroke-width="0.9"/>
<line x1="470.40" y1="363.40" x2="470.40" y2="366.60" stroke="#2d4a84" stroke-width="0.9"/>
<line x1="479.60" y1="363.40" x2="479.60" y2="366.60" stroke="#2d4a84" stroke-width="0.9"/>
<rect x="474.05" y="363.85" width="2.30" height="2.30" fill="#2d4a84" stroke="#142d68" stroke-width="0.7"/>
<rect x="278.80" y="371.57" width="8.00" height="8.00" fill="#2d4a84" stroke="#142d68" stroke-width="0.7"/>
<rect x="464.55" y="371.52" width="8.10" height="8.10" fill="#2d4a84" stroke="#142d68" stroke-width="0.7"/>
<line x1="266.30" y1="386.14" x2="285.40" y2="386.14" stroke="#2d4a84" stroke-width="0.9"/>
<line x1="266.30" y1="384.54" x2="266.30" y2="387.74" stroke="#2d4a84" stroke-width="0.9"/>
<line x1="285.40" y1="384.54" x2="285.40" y2="387.74" stroke="#2d4a84" stroke-width="0.9"/>
<rect x="273.80" y="384.64" width="3.00" height="3.00" fill="#2d4a84" stroke="#142d68" stroke-width="0.7"/>
<rect x="473.60" y="384.24" width="3.80" height="3.80" fill="#2d4a84" stroke="#142d68" stroke-width="0.7"/>
<line x1="275.50" y1="396.71" x2="294.60" y2="396.71" stroke="#2d4a84" stroke-width="0.9"/>
<line x1="275.50" y1="395.11" x2="275.50" y2="398.31" stroke="#2d4a84" stroke-width="0.9"/>
<line x1="294.60" y1="395.11" x2="294.60" y2="398.31" stroke="#2d4a84" stroke-width="0.9"/>
<rect x="284.05" y="395.56" width="2.30" height="2.30" fill="#2d4a84" stroke="#142d68" stroke-width="0.7"/>
<line x1="474.10" y1="396.71" x2="480.40" y2="396.71" stroke="#2d4a84" stroke-width="0.9"/>
<line x1="474.10" y1="395.11" x2="474.10" y2="398.31" stroke="#2d4a84" stroke-width="0.9"/>
<line x1="480.40" y1="395.11" x2="480.40" y2="398.31" stroke="#2d4a84" stroke-width="0.9"/>
<rect x="477.35" y="395.56" width="2.30" height="2.30" fill="#2d4a84" stroke="#142d68" stroke-width="0.7"/>
<line x1="267.80" y1="407.28" x2="290.60" y2="407.28" stroke="#2d4a84" stroke-width="0.9"/>
<line x1="267.80" y1="405.68" x2="267.80" y2="408.88" stroke="#2d4a84" stroke-width="0.9"/>
<line x1="290.60" y1="405.68" x2="290.60" y2="408.88" stroke="#2d4a84" stroke-width="0.9"/>
<rect x="278.45" y="406.13" width="2.30" height="2.30" fill="#2d4a84" stroke="#142d68" stroke-width="0.7"/>
<line x1="462.60" y1="407.28" x2="473.30" y2="407.28" stroke="#2d4a84" stroke-width="0.9"/>
<line x1="462.60" y1="405.68" x2="462.60" y2="408.88" stroke="#2d4a84" stroke-width="0.9"/>
<line x1="473.30" y1="405.68" x2="473.30" y2="408.88" stroke="#2d4a84" stroke-width="0.9"/>
<rect x="466.85" y="406.13" width="2.30" height="2.30" fill="#2d4a84" stroke="#142d68" stroke-width="0.7"/>
<line x1="263.50" y1="417.85" x2="289.60" y2="417.85" stroke="#2d4a84" stroke-width="0.9"/>
<line x1="263.50" y1="416.25" x2="263.50" y2="419.45" stroke="#2d4a84" stroke-width="0.9"/>
<line x1="289.60" y1="416.25" x2="289.60" y2="419.45" stroke="#2d4a84" stroke-width="0.9"/>
<rect x="275.55" y="416.70" width="2.30" height="2.30" fill="#2d4a84" stroke="#142d68" stroke-width="0.7"/>
<line x1="466.30" y1="417.85" x2="475.80" y2="417.85" stroke="#2d4a84" stroke-width="0.9"/>
<line x1="466.30" y1="416.25" x2="466.30" y2="419.45" stroke="#2d4a84" stroke-width="0.9"/>
<line x1="475.80" y1="416.25" x2="475.80" y2="419.45" stroke="#2d4a84" stroke-width="0.9"/>
<rect x="471.05" y="416.70" width="2.30" height="2.30" fill="#2d4a84" stroke="#142d68" stroke-width="0.7"/>
<line x1="276.30" y1="428.42" x2="290.40" y2="428.42" stroke="#2d4a84" stroke-width="0.9"/>
<line x1="276.30" y1="426.82" x2="276.30" y2="430.02" stroke="#2d4a84" stroke-width="0.9"/>
<line x1="290.40" y1="426.82" x2="290.40" y2="430.02" stroke="#2d4a84" stroke-width="0.9"/>
<rect x="282.60" y="427.52" width="1.80" height="1.80" fill="#2d4a84" stroke="#142d68" stroke-width="0.7"/>
<line x1="472.40" y1="428.42" x2="478.50" y2="428.42" stroke="#2d4a84" stroke-width="0.9"/>
<line x1="472.40" y1="426.82" x2="472.40" y2="430.02" stroke="#2d4a84" stroke-width="0.9"/>
<line x1="478.50" y1="426.82" x2="478.50" y2="430.02" stroke="#2d4a84" stroke-width="0.9"/>
<rect x="474.60" y="427.52" width="1.80" height="1.80" fill="#2d4a84" stroke="#142d68" stroke-width="0.7"/>
<line x1="268.40" y1="438.99" x2="290.40" y2="438.99" stroke="#2d4a84" stroke-width="0.9"/>
<line x1="268.40" y1="437.39" x2="268.40" y2="440.59" stroke="#2d4a84" stroke-width="0.9"/>
<line x1="290.40" y1="437.39" x2="290.40" y2="440.59" stroke="#2d4a84" stroke-width="0.9"/>
<rect x="279.10" y="438.09" width="1.80" height="1.80" fill="#2d4a84" stroke="#142d68" stroke-width="0.7"/>
<line x1="474.80" y1="438.99" x2="481.10" y2="438.99" stroke="#2d4a84" stroke-width="0.9"/>
<line x1="474.80" y1="437.39" x2="474.80" y2="440.59" stroke="#2d4a84" stroke-width="0.9"/>
<line x1="481.10" y1="437.39" x2="481.10" y2="440.59" stroke="#2d4a84" stroke-width="0.9"/>
<rect x="477.10" y="438.09" width="1.80" height="1.80" fill="#2d4a84" stroke="#142d68" stroke-width="0.7"/>
<line x1="267.70" y1="449.56" x2="290.00" y2="449.56" stroke="#2d4a84" stroke-width="0.9"/>
<line x1="267.70" y1="447.96" x2="267.70" y2="451.16" stroke="#2d4a84" stroke-width="0.9"/>
<line x1="290.00" y1="447.96" x2="290.00" y2="451.16" stroke="#2d4a84" stroke-width="0.9"/>
<rect x="278.20" y="448.66" width="1.80" height="1.80" fill="#2d4a84" stroke="#142d68" stroke-width="0.7"/>
<line x1="471.30" y1="449.56" x2="478.50" y2="449.56" stroke="#2d4a84" stroke-width="0.9"/>
<line x1="471.30" y1="447.96" x2="471.30" y2="451.16" stroke="#2d4a84" stroke-width="0.9"/>
<line x1="478.50" y1="447.96" x2="478.50" y2="451.16" stroke="#2d4a84" stroke-width="0.9"/>
<rect x="473.90" y="448.66" width="1.80" height="1.80" fill="#2d4a84" stroke="#142d68" stroke-width="0.7"/>
<line x1="267.40" y1="460.13" x2="290.00" y2="460.13" stroke="#2d4a84" stroke-width="0.9"/>
<line x1="267.40" y1="458.53" x2="267.40" y2="461.73" stroke="#2d4a84" stroke-width="0.9"/>
<line x1="290.00" y1="458.53" x2="290.00" y2="461.73" stroke="#2d4a84" stroke-width="0.9"/>
<rect x="278.10" y="459.23" width="1.80" height="1.80" fill="#2d4a84" stroke="#142d68" stroke-width="0.7"/>
<line x1="471.30" y1="460.13" x2="478.70" y2="460.13" stroke="#2d4a84" stroke-width="0.9"/>
<line x1="471.30" y1="458.53" x2="471.30" y2="461.73" stroke="#2d4a84" stroke-width="0.9"/>
<line x1="478.70" y1="458.53" x2="478.70" y2="461.73" stroke="#2d4a84" stroke-width="0.9"/>
<rect x="473.85" y="458.98" width="2.30" height="2.30" fill="#2d4a84" stroke="#142d68" stroke-width="0.7"/>
<polygon points="277.50,483.00 280.80,478.30 284.20,483.00 280.80,487.80" fill="#a5002b"/>
<text x="288.00" y="485.10" font-size="7.8" text-anchor="start" font-weight="normal" fill="#2a2a2a" >0.14</text>
<polygon points="471.80,483.00 474.50,478.30 477.10,483.00 474.50,487.80" fill="#a5002b"/>
<text x="467.10" y="485.20" font-size="7.8" text-anchor="end" font-weight="normal" fill="#2a2a2a" >0.61</text>
<text x="8.30" y="520.10" font-size="13" text-anchor="start" font-weight="bold" fill="#000" >B</text>
<text x="37.50" y="540.60" font-size="8.6" text-anchor="start" font-weight="bold" fill="#000" >Cohort</text>
<text x="104.50" y="540.60" font-size="8.6" text-anchor="middle" font-weight="bold" fill="#000" >N</text>
<text x="142.10" y="540.60" font-size="8.6" text-anchor="middle" font-weight="bold" fill="#000" >Weight (%)</text>
<text x="37.50" y="551.20" font-size="8.6" text-anchor="start" font-weight="normal" fill="#000" stroke="#000" stroke-width="0.18" >UEP</text>
<text x="104.50" y="551.20" font-size="8.6" text-anchor="middle" font-weight="normal" fill="#000" stroke="#000" stroke-width="0.18" >333</text>
<text x="142.10" y="551.20" font-size="8.6" text-anchor="middle" font-weight="normal" fill="#000" stroke="#000" stroke-width="0.18" >8.2</text>
<text x="37.50" y="561.65" font-size="8.6" text-anchor="start" font-weight="normal" fill="#000" stroke="#000" stroke-width="0.18" >MDACC</text>
<text x="104.50" y="561.65" font-size="8.6" text-anchor="middle" font-weight="normal" fill="#000" stroke="#000" stroke-width="0.18" >1225</text>
<text x="142.10" y="561.65" font-size="8.6" text-anchor="middle" font-weight="normal" fill="#000" stroke="#000" stroke-width="0.18" >30.2</text>
<text x="37.50" y="572.30" font-size="8.6" text-anchor="start" font-weight="normal" fill="#000" stroke="#000" stroke-width="0.18" >CLL1</text>
<text x="104.50" y="572.30" font-size="8.6" text-anchor="middle" font-weight="normal" fill="#000" stroke="#000" stroke-width="0.18" >547</text>
<text x="142.10" y="572.30" font-size="8.6" text-anchor="middle" font-weight="normal" fill="#000" stroke="#000" stroke-width="0.18" >13.5</text>
<text x="37.50" y="582.90" font-size="8.6" text-anchor="start" font-weight="normal" fill="#000" stroke="#000" stroke-width="0.18" >Barcelona</text>
<text x="104.50" y="582.90" font-size="8.6" text-anchor="middle" font-weight="normal" fill="#000" stroke="#000" stroke-width="0.18" >355</text>
<text x="142.10" y="582.90" font-size="8.6" text-anchor="middle" font-weight="normal" fill="#000" stroke="#000" stroke-width="0.18" >8.8</text>
<text x="37.50" y="593.65" font-size="8.6" text-anchor="start" font-weight="normal" fill="#000" stroke="#000" stroke-width="0.18" >CLL7</text>
<text x="104.50" y="593.65" font-size="8.6" text-anchor="middle" font-weight="normal" fill="#000" stroke="#000" stroke-width="0.18" >339</text>
<text x="142.10" y="593.65" font-size="8.6" text-anchor="middle" font-weight="normal" fill="#000" stroke="#000" stroke-width="0.18" >8.4</text>
<text x="37.50" y="604.60" font-size="8.6" text-anchor="start" font-weight="normal" fill="#000" stroke="#000" stroke-width="0.18" >0-CLL1</text>
<text x="104.50" y="604.60" font-size="8.6" text-anchor="middle" font-weight="normal" fill="#000" stroke="#000" stroke-width="0.18" >312</text>
<text x="142.10" y="604.60" font-size="8.6" text-anchor="middle" font-weight="normal" fill="#000" stroke="#000" stroke-width="0.18" >7.7</text>
<text x="37.50" y="615.05" font-size="8.6" text-anchor="start" font-weight="normal" fill="#000" stroke="#000" stroke-width="0.18" >Brno</text>
<text x="104.50" y="615.05" font-size="8.6" text-anchor="middle" font-weight="normal" fill="#000" stroke="#000" stroke-width="0.18" >269</text>
<text x="142.10" y="615.05" font-size="8.6" text-anchor="middle" font-weight="normal" fill="#000" stroke="#000" stroke-width="0.18" >6.6</text>
<text x="37.50" y="625.60" font-size="8.6" text-anchor="start" font-weight="normal" fill="#000" stroke="#000" stroke-width="0.18" >Southampton</text>
<text x="104.50" y="625.60" font-size="8.6" text-anchor="middle" font-weight="normal" fill="#000" stroke="#000" stroke-width="0.18" >226</text>
<text x="142.10" y="625.60" font-size="8.6" text-anchor="middle" font-weight="normal" fill="#000" stroke="#000" stroke-width="0.18" >5.6</text>
<text x="37.50" y="636.40" font-size="8.6" text-anchor="start" font-weight="normal" fill="#000" stroke="#000" stroke-width="0.18" >SCAN</text>
<text x="104.50" y="636.40" font-size="8.6" text-anchor="middle" font-weight="normal" fill="#000" stroke="#000" stroke-width="0.18" >223</text>
<text x="142.10" y="636.40" font-size="8.6" text-anchor="middle" font-weight="normal" fill="#000" stroke="#000" stroke-width="0.18" >5.5</text>
<text x="37.50" y="646.25" font-size="8.6" text-anchor="start" font-weight="normal" fill="#000" stroke="#000" stroke-width="0.18" >SU</text>
<text x="104.50" y="646.25" font-size="8.6" text-anchor="middle" font-weight="normal" fill="#000" stroke="#000" stroke-width="0.18" >223</text>
<text x="142.10" y="646.25" font-size="8.6" text-anchor="middle" font-weight="normal" fill="#000" stroke="#000" stroke-width="0.18" >5.5</text>
<text x="37.50" y="666.80" font-size="8.6" text-anchor="start" font-weight="bold" fill="#000" >Total</text>
<text x="104.50" y="666.80" font-size="8.6" text-anchor="middle" font-weight="bold" fill="#000" >4052</text>
<text x="142.10" y="666.80" font-size="8.6" text-anchor="middle" font-weight="bold" fill="#000" >100</text>
<text x="228.90" y="528.20" font-size="10" text-anchor="middle" font-weight="normal" fill="#000" stroke="#000" stroke-width="0.05" textLength="33.7" lengthAdjust="spacingAndGlyphs">Lowrisk</text>
<line x1="176.90" y1="534.30" x2="281.10" y2="534.30" stroke="#1a1a1a" stroke-width="1.5"/>
<line x1="180.00" y1="540.50" x2="180.00" y2="669.80" stroke="#b8b8b8" stroke-width="1.3"/>
<line x1="176.80" y1="669.80" x2="281.60" y2="669.80" stroke="#2a2a2a" stroke-width="1.6"/>
<line x1="179.80" y1="669.80" x2="179.80" y2="672.40" stroke="#2a2a2a" stroke-width="0.9"/>
<text x="179.80" y="682.50" font-size="7.9" text-anchor="middle" font-weight="normal" fill="#2a2a2a" >1</text>
<line x1="246.40" y1="669.80" x2="246.40" y2="672.40" stroke="#2a2a2a" stroke-width="0.9"/>
<text x="246.40" y="682.50" font-size="7.9" text-anchor="middle" font-weight="normal" fill="#2a2a2a" >10</text>
<line x1="265.80" y1="669.80" x2="265.80" y2="672.40" stroke="#2a2a2a" stroke-width="0.9"/>
<text x="265.80" y="682.50" font-size="7.9" text-anchor="middle" font-weight="normal" fill="#2a2a2a" >20</text>
<line x1="278.50" y1="669.80" x2="278.50" y2="672.40" stroke="#2a2a2a" stroke-width="0.9"/>
<text x="278.50" y="682.50" font-size="7.9" text-anchor="middle" font-weight="normal" fill="#2a2a2a" >30</text>
<text x="345.00" y="528.20" font-size="10" text-anchor="middle" font-weight="normal" fill="#000" stroke="#000" stroke-width="0.05" textLength="73.7" lengthAdjust="spacingAndGlyphs">Intermediaterisk</text>
<line x1="295.10" y1="534.30" x2="394.50" y2="534.30" stroke="#1a1a1a" stroke-width="1.5"/>
<line x1="295.80" y1="540.50" x2="295.80" y2="669.80" stroke="#b8b8b8" stroke-width="1.3"/>
<line x1="293.50" y1="669.80" x2="396.70" y2="669.80" stroke="#2a2a2a" stroke-width="1.6"/>
<line x1="295.80" y1="669.80" x2="295.80" y2="672.40" stroke="#2a2a2a" stroke-width="0.9"/>
<text x="295.80" y="682.50" font-size="7.9" text-anchor="middle" font-weight="normal" fill="#2a2a2a" >1</text>
<line x1="362.60" y1="669.80" x2="362.60" y2="672.40" stroke="#2a2a2a" stroke-width="0.9"/>
<text x="362.60" y="682.50" font-size="7.9" text-anchor="middle" font-weight="normal" fill="#2a2a2a" >10</text>
<line x1="381.80" y1="669.80" x2="381.80" y2="672.40" stroke="#2a2a2a" stroke-width="0.9"/>
<text x="381.80" y="682.50" font-size="7.9" text-anchor="middle" font-weight="normal" fill="#2a2a2a" >20</text>
<line x1="393.50" y1="669.80" x2="393.50" y2="672.40" stroke="#2a2a2a" stroke-width="0.9"/>
<text x="393.50" y="682.50" font-size="7.9" text-anchor="middle" font-weight="normal" fill="#2a2a2a" >30</text>
<text x="460.40" y="528.20" font-size="10" text-anchor="middle" font-weight="normal" fill="#000" stroke="#000" stroke-width="0.05" textLength="36.6" lengthAdjust="spacingAndGlyphs">Highrisk</text>
<line x1="413.00" y1="534.30" x2="508.00" y2="534.30" stroke="#1a1a1a" stroke-width="1.5"/>
<line x1="411.10" y1="540.50" x2="411.10" y2="669.80" stroke="#b8b8b8" stroke-width="1.3"/>
<line x1="408.10" y1="669.80" x2="512.80" y2="669.80" stroke="#2a2a2a" stroke-width="1.6"/>
<line x1="411.10" y1="669.80" x2="411.10" y2="672.40" stroke="#2a2a2a" stroke-width="0.9"/>
<text x="411.10" y="682.50" font-size="7.9" text-anchor="middle" font-weight="normal" fill="#2a2a2a" >1</text>
<line x1="477.50" y1="669.80" x2="477.50" y2="672.40" stroke="#2a2a2a" stroke-width="0.9"/>
<text x="477.50" y="682.50" font-size="7.9" text-anchor="middle" font-weight="normal" fill="#2a2a2a" >10</text>
<line x1="497.30" y1="669.80" x2="497.30" y2="672.40" stroke="#2a2a2a" stroke-width="0.9"/>
<text x="497.30" y="682.50" font-size="7.9" text-anchor="middle" font-weight="normal" fill="#2a2a2a" >20</text>
<line x1="509.80" y1="669.80" x2="509.80" y2="672.40" stroke="#2a2a2a" stroke-width="0.9"/>
<text x="509.80" y="682.50" font-size="7.9" text-anchor="middle" font-weight="normal" fill="#2a2a2a" >30</text>
<line x1="185.50" y1="548.70" x2="210.80" y2="548.70" stroke="#2d4a84" stroke-width="0.9"/>
<line x1="185.50" y1="547.50" x2="185.50" y2="549.90" stroke="#2d4a84" stroke-width="0.9"/>
<line x1="210.80" y1="547.50" x2="210.80" y2="549.90" stroke="#2d4a84" stroke-width="0.9"/>
<rect x="198.45" y="547.75" width="1.90" height="1.90" fill="#2d4a84" stroke="#142d68" stroke-width="0.7"/>
<line x1="200.40" y1="559.36" x2="219.60" y2="559.36" stroke="#2d4a84" stroke-width="0.9"/>
<line x1="200.40" y1="558.16" x2="200.40" y2="560.56" stroke="#2d4a84" stroke-width="0.9"/>
<line x1="219.60" y1="558.16" x2="219.60" y2="560.56" stroke="#2d4a84" stroke-width="0.9"/>
<rect x="207.35" y="555.26" width="6.10" height="8.20" fill="#2d4a84" stroke="#142d68" stroke-width="0.7"/>
<line x1="193.30" y1="570.02" x2="214.30" y2="570.02" stroke="#2d4a84" stroke-width="0.9"/>
<line x1="193.30" y1="568.82" x2="193.30" y2="571.22" stroke="#2d4a84" stroke-width="0.9"/>
<line x1="214.30" y1="568.82" x2="214.30" y2="571.22" stroke="#2d4a84" stroke-width="0.9"/>
<rect x="203.55" y="568.27" width="2.70" height="3.50" fill="#2d4a84" stroke="#142d68" stroke-width="0.7"/>
<line x1="192.40" y1="580.68" x2="213.50" y2="580.68" stroke="#2d4a84" stroke-width="0.9"/>
<line x1="192.40" y1="579.48" x2="192.40" y2="581.88" stroke="#2d4a84" stroke-width="0.9"/>
<line x1="213.50" y1="579.48" x2="213.50" y2="581.88" stroke="#2d4a84" stroke-width="0.9"/>
<rect x="202.05" y="579.73" width="1.70" height="1.90" fill="#2d4a84" stroke="#142d68" stroke-width="0.7"/>
<line x1="180.60" y1="591.34" x2="200.50" y2="591.34" stroke="#2d4a84" stroke-width="0.9"/>
<polygon points="180.60,591.34 183.80,589.44 183.80,593.24" fill="#2d4a84"/>
<line x1="200.50" y1="590.14" x2="200.50" y2="592.54" stroke="#2d4a84" stroke-width="0.9"/>
<line x1="195.40" y1="602.00" x2="223.50" y2="602.00" stroke="#2d4a84" stroke-width="0.9"/>
<line x1="195.40" y1="600.80" x2="195.40" y2="603.20" stroke="#2d4a84" stroke-width="0.9"/>
<line x1="223.50" y1="600.80" x2="223.50" y2="603.20" stroke="#2d4a84" stroke-width="0.9"/>
<rect x="209.95" y="601.05" width="1.70" height="1.90" fill="#2d4a84" stroke="#142d68" stroke-width="0.7"/>
<line x1="180.60" y1="612.66" x2="219.60" y2="612.66" stroke="#2d4a84" stroke-width="0.9"/>
<polygon points="180.60,612.66 183.80,610.76 183.80,614.56" fill="#2d4a84"/>
<line x1="219.60" y1="611.46" x2="219.60" y2="613.86" stroke="#2d4a84" stroke-width="0.9"/>
<line x1="180.60" y1="623.32" x2="216.20" y2="623.32" stroke="#2d4a84" stroke-width="0.9"/>
<polygon points="180.60,623.32 183.80,621.42 183.80,625.22" fill="#2d4a84"/>
<line x1="216.20" y1="622.12" x2="216.20" y2="624.52" stroke="#2d4a84" stroke-width="0.9"/>
<rect x="197.85" y="622.87" width="0.70" height="0.90" fill="#2d4a84" stroke="#142d68" stroke-width="0.7"/>
<line x1="180.60" y1="633.98" x2="214.70" y2="633.98" stroke="#2d4a84" stroke-width="0.9"/>
<polygon points="180.60,633.98 183.80,632.08 183.80,635.88" fill="#2d4a84"/>
<line x1="214.70" y1="632.78" x2="214.70" y2="635.18" stroke="#2d4a84" stroke-width="0.9"/>
<rect x="194.35" y="633.23" width="1.30" height="1.50" fill="#2d4a84" stroke="#142d68" stroke-width="0.7"/>
<line x1="194.50" y1="644.64" x2="221.60" y2="644.64" stroke="#2d4a84" stroke-width="0.9"/>
<line x1="194.50" y1="643.44" x2="194.50" y2="645.84" stroke="#2d4a84" stroke-width="0.9"/>
<line x1="221.60" y1="643.44" x2="221.60" y2="645.84" stroke="#2d4a84" stroke-width="0.9"/>
<rect x="208.25" y="643.69" width="1.70" height="1.90" fill="#2d4a84" stroke="#142d68" stroke-width="0.7"/>
<line x1="342.20" y1="548.70" x2="359.70" y2="548.70" stroke="#2d4a84" stroke-width="0.9"/>
<line x1="342.20" y1="547.50" x2="342.20" y2="549.90" stroke="#2d4a84" stroke-width="0.9"/>
<line x1="359.70" y1="547.50" x2="359.70" y2="549.90" stroke="#2d4a84" stroke-width="0.9"/>
<rect x="350.15" y="547.75" width="1.70" height="1.90" fill="#2d4a84" stroke="#142d68" stroke-width="0.7"/>
<line x1="340.30" y1="559.36" x2="351.30" y2="559.36" stroke="#2d4a84" stroke-width="0.9"/>
<line x1="340.30" y1="558.16" x2="340.30" y2="560.56" stroke="#2d4a84" stroke-width="0.9"/>
<line x1="351.30" y1="558.16" x2="351.30" y2="560.56" stroke="#2d4a84" stroke-width="0.9"/>
<rect x="343.35" y="555.41" width="5.30" height="7.90" fill="#2d4a84" stroke="#142d68" stroke-width="0.7"/>
<line x1="343.50" y1="570.02" x2="355.70" y2="570.02" stroke="#2d4a84" stroke-width="0.9"/>
<line x1="343.50" y1="568.82" x2="343.50" y2="571.22" stroke="#2d4a84" stroke-width="0.9"/>
<line x1="355.70" y1="568.82" x2="355.70" y2="571.22" stroke="#2d4a84" stroke-width="0.9"/>
<rect x="348.05" y="568.37" width="2.30" height="3.30" fill="#2d4a84" stroke="#142d68" stroke-width="0.7"/>
<line x1="347.60" y1="580.68" x2="362.30" y2="580.68" stroke="#2d4a84" stroke-width="0.9"/>
<line x1="347.60" y1="579.48" x2="347.60" y2="581.88" stroke="#2d4a84" stroke-width="0.9"/>
<line x1="362.30" y1="579.48" x2="362.30" y2="581.88" stroke="#2d4a84" stroke-width="0.9"/>
<rect x="354.85" y="579.73" width="1.70" height="1.90" fill="#2d4a84" stroke="#142d68" stroke-width="0.7"/>
<line x1="337.70" y1="591.34" x2="358.50" y2="591.34" stroke="#2d4a84" stroke-width="0.9"/>
<line x1="337.70" y1="590.14" x2="337.70" y2="592.54" stroke="#2d4a84" stroke-width="0.9"/>
<line x1="358.50" y1="590.14" x2="358.50" y2="592.54" stroke="#2d4a84" stroke-width="0.9"/>
<rect x="348.25" y="590.39" width="1.70" height="1.90" fill="#2d4a84" stroke="#142d68" stroke-width="0.7"/>
<line x1="349.40" y1="602.00" x2="362.80" y2="602.00" stroke="#2d4a84" stroke-width="0.9"/>
<line x1="349.40" y1="600.80" x2="349.40" y2="603.20" stroke="#2d4a84" stroke-width="0.9"/>
<line x1="362.80" y1="600.80" x2="362.80" y2="603.20" stroke="#2d4a84" stroke-width="0.9"/>
<rect x="355.45" y="601.05" width="1.70" height="1.90" fill="#2d4a84" stroke="#142d68" stroke-width="0.7"/>
<line x1="325.20" y1="612.66" x2="349.40" y2="612.66" stroke="#2d4a84" stroke-width="0.9"/>
<line x1="325.20" y1="611.46" x2="325.20" y2="613.86" stroke="#2d4a84" stroke-width="0.9"/>
<line x1="349.40" y1="611.46" x2="349.40" y2="613.86" stroke="#2d4a84" stroke-width="0.9"/>
<rect x="338.15" y="612.21" width="0.70" height="0.90" fill="#2d4a84" stroke="#142d68" stroke-width="0.7"/>
<line x1="322.60" y1="623.32" x2="351.70" y2="623.32" stroke="#2d4a84" stroke-width="0.9"/>
<line x1="322.60" y1="622.12" x2="322.60" y2="624.52" stroke="#2d4a84" stroke-width="0.9"/>
<line x1="351.70" y1="622.12" x2="351.70" y2="624.52" stroke="#2d4a84" stroke-width="0.9"/>
<rect x="338.15" y="622.87" width="0.70" height="0.90" fill="#2d4a84" stroke="#142d68" stroke-width="0.7"/>
<line x1="331.60" y1="633.98" x2="353.50" y2="633.98" stroke="#2d4a84" stroke-width="0.9"/>
<line x1="331.60" y1="632.78" x2="331.60" y2="635.18" stroke="#2d4a84" stroke-width="0.9"/>
<line x1="353.50" y1="632.78" x2="353.50" y2="635.18" stroke="#2d4a84" stroke-width="0.9"/>
<rect x="342.75" y="633.23" width="1.30" height="1.50" fill="#2d4a84" stroke="#142d68" stroke-width="0.7"/>
<line x1="346.30" y1="644.64" x2="364.50" y2="644.64" stroke="#2d4a84" stroke-width="0.9"/>
<line x1="346.30" y1="643.44" x2="346.30" y2="645.84" stroke="#2d4a84" stroke-width="0.9"/>
<line x1="364.50" y1="643.44" x2="364.50" y2="645.84" stroke="#2d4a84" stroke-width="0.9"/>
<rect x="354.85" y="643.89" width="1.30" height="1.50" fill="#2d4a84" stroke="#142d68" stroke-width="0.7"/>
<line x1="481.30" y1="548.70" x2="503.80" y2="548.70" stroke="#2d4a84" stroke-width="0.9"/>
<line x1="481.30" y1="547.50" x2="481.30" y2="549.90" stroke="#2d4a84" stroke-width="0.9"/>
<line x1="503.80" y1="547.50" x2="503.80" y2="549.90" stroke="#2d4a84" stroke-width="0.9"/>
<rect x="491.55" y="547.75" width="1.70" height="1.90" fill="#2d4a84" stroke="#142d68" stroke-width="0.7"/>
<line x1="480.10" y1="559.36" x2="488.50" y2="559.36" stroke="#2d4a84" stroke-width="0.9"/>
<line x1="480.10" y1="558.16" x2="480.10" y2="560.56" stroke="#2d4a84" stroke-width="0.9"/>
<line x1="488.50" y1="558.16" x2="488.50" y2="560.56" stroke="#2d4a84" stroke-width="0.9"/>
<rect x="481.45" y="555.36" width="6.30" height="8.00" fill="#2d4a84" stroke="#142d68" stroke-width="0.7"/>
<line x1="490.20" y1="570.02" x2="500.80" y2="570.02" stroke="#2d4a84" stroke-width="0.9"/>
<line x1="490.20" y1="568.82" x2="490.20" y2="571.22" stroke="#2d4a84" stroke-width="0.9"/>
<line x1="500.80" y1="568.82" x2="500.80" y2="571.22" stroke="#2d4a84" stroke-width="0.9"/>
<rect x="494.05" y="568.37" width="2.30" height="3.30" fill="#2d4a84" stroke="#142d68" stroke-width="0.7"/>
<line x1="495.80" y1="580.68" x2="508.90" y2="580.68" stroke="#2d4a84" stroke-width="0.9"/>
<line x1="495.80" y1="579.48" x2="495.80" y2="581.88" stroke="#2d4a84" stroke-width="0.9"/>
<polygon points="508.90,580.68 505.70,578.78 505.70,582.58" fill="#2d4a84"/>
<rect x="502.95" y="579.53" width="2.30" height="2.30" fill="#2d4a84" stroke="#142d68" stroke-width="0.7"/>
<line x1="477.70" y1="591.34" x2="496.70" y2="591.34" stroke="#2d4a84" stroke-width="0.9"/>
<line x1="477.70" y1="590.14" x2="477.70" y2="592.54" stroke="#2d4a84" stroke-width="0.9"/>
<line x1="496.70" y1="590.14" x2="496.70" y2="592.54" stroke="#2d4a84" stroke-width="0.9"/>
<rect x="487.25" y="590.39" width="1.70" height="1.90" fill="#2d4a84" stroke="#142d68" stroke-width="0.7"/>
<line x1="485.40" y1="602.00" x2="500.60" y2="602.00" stroke="#2d4a84" stroke-width="0.9"/>
<line x1="485.40" y1="600.80" x2="485.40" y2="603.20" stroke="#2d4a84" stroke-width="0.9"/>
<line x1="500.60" y1="600.80" x2="500.60" y2="603.20" stroke="#2d4a84" stroke-width="0.9"/>
<rect x="491.95" y="601.05" width="1.70" height="1.90" fill="#2d4a84" stroke="#142d68" stroke-width="0.7"/>
<line x1="492.40" y1="612.66" x2="504.10" y2="612.66" stroke="#2d4a84" stroke-width="0.9"/>
<line x1="492.40" y1="611.46" x2="492.40" y2="613.86" stroke="#2d4a84" stroke-width="0.9"/>
<line x1="504.10" y1="611.46" x2="504.10" y2="613.86" stroke="#2d4a84" stroke-width="0.9"/>
<rect x="498.25" y="612.21" width="0.70" height="0.90" fill="#2d4a84" stroke="#142d68" stroke-width="0.7"/>
<line x1="488.50" y1="623.32" x2="505.60" y2="623.32" stroke="#2d4a84" stroke-width="0.9"/>
<line x1="488.50" y1="622.12" x2="488.50" y2="624.52" stroke="#2d4a84" stroke-width="0.9"/>
<line x1="505.60" y1="622.12" x2="505.60" y2="624.52" stroke="#2d4a84" stroke-width="0.9"/>
<rect x="497.55" y="622.87" width="0.70" height="0.90" fill="#2d4a84" stroke="#142d68" stroke-width="0.7"/>
<line x1="485.40" y1="633.98" x2="501.50" y2="633.98" stroke="#2d4a84" stroke-width="0.9"/>
<line x1="485.40" y1="632.78" x2="485.40" y2="635.18" stroke="#2d4a84" stroke-width="0.9"/>
<line x1="501.50" y1="632.78" x2="501.50" y2="635.18" stroke="#2d4a84" stroke-width="0.9"/>
<rect x="493.85" y="633.23" width="1.30" height="1.50" fill="#2d4a84" stroke="#142d68" stroke-width="0.7"/>
<line x1="482.70" y1="644.64" x2="503.20" y2="644.64" stroke="#2d4a84" stroke-width="0.9"/>
<line x1="482.70" y1="643.44" x2="482.70" y2="645.84" stroke="#2d4a84" stroke-width="0.9"/>
<line x1="503.20" y1="643.44" x2="503.20" y2="645.84" stroke="#2d4a84" stroke-width="0.9"/>
<rect x="492.95" y="643.89" width="1.30" height="1.50" fill="#2d4a84" stroke="#142d68" stroke-width="0.7"/>
<polygon points="195.30,664.30 199.90,659.60 204.50,664.30 199.90,669.00" fill="#a5002b"/>
<text x="208.70" y="666.70" font-size="7.8" text-anchor="start" font-weight="normal" fill="#2a2a2a" >2.0</text>
<polygon points="345.40,664.25 348.30,659.40 351.20,664.25 348.30,669.10" fill="#a5002b"/>
<text x="354.50" y="666.50" font-size="7.8" text-anchor="start" font-weight="normal" fill="#2a2a2a" >6.1</text>
<polygon points="488.30,664.10 491.30,659.20 494.30,664.10 491.30,669.00" fill="#a5002b"/>
<text x="484.00" y="666.70" font-size="7.8" text-anchor="end" font-weight="normal" fill="#2a2a2a" >16.1</text>
<rect x="0.5" y="0.5" width="519" height="689" fill="none" stroke="#000" stroke-width="1.2"/>
</svg></div>
</body></html>
